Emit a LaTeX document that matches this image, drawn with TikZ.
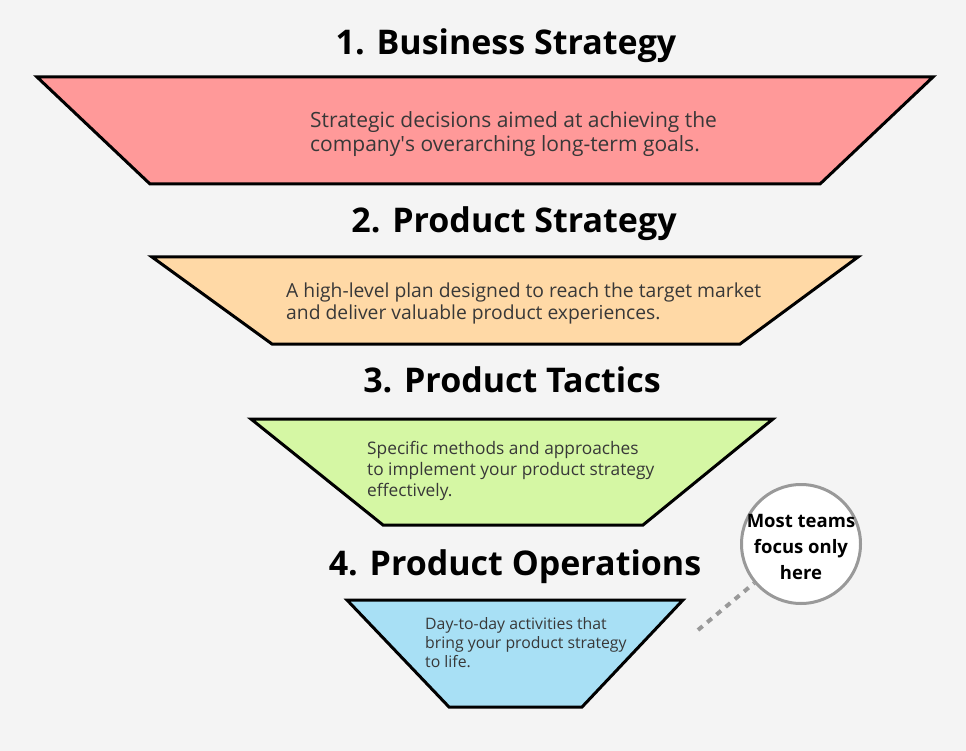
\documentclass[tikz,border=0pt]{standalone}
\usepackage{fontspec}
\setmainfont{Open Sans}
\begin{document}
\begin{tikzpicture}[x=1pt,y=-1pt,
  funnel/.style={draw=black,line width=3pt,line join=miter},
  title/.style={font=\fontsize{34}{40}\selectfont\bfseries,text=black,anchor=base},
  body/.style={text=black!78,anchor=north west,align=left,inner sep=0pt},
]
\useasboundingbox[fill={rgb,255:red,244;green,244;blue,244}] (0,0) rectangle (966,751);
\definecolor{pinkf}{RGB}{255,153,153}
\definecolor{orangef}{RGB}{255,217,166}
\definecolor{greenf}{RGB}{213,247,164}
\definecolor{bluef}{RGB}{168,224,245}
\definecolor{circgray}{RGB}{153,153,153}

\node[title] (t1) at (506,55) {1. Business Strategy};
\draw[funnel,fill=pinkf] (37,77) -- (933,77) -- (820,184) -- (150,184) -- cycle;
\node[body,font=\fontsize{21}{24}\selectfont] (b1) at (310,111) {Strategic decisions aimed at achieving the\\company\textquotesingle s overarching long-term goals.};

\node[title] (t2) at (514,233) {2. Product Strategy};
\draw[funnel,fill=orangef] (152,257) -- (858,257) -- (740,344) -- (272,344) -- cycle;
\node[body,font=\fontsize{19.3}{22}\selectfont] (b2) at (286,283) {A high-level plan designed to reach the target market\\and deliver valuable product experiences.};

\node[title] (t3) at (512,392) {3. Product Tactics};
\draw[funnel,fill=greenf] (251,419) -- (773,419) -- (643,525) -- (383,525) -- cycle;
\node[body,font=\fontsize{17.3}{21}\selectfont] (b3) at (367,441) {Specific methods and approaches\\to implement your product strategy\\effectively.};

\node[title] (t4) at (515,575) {4. Product Operations};
\draw[funnel,fill=bluef] (347,600) -- (683,600) -- (582,707) -- (449,707) -- cycle;
\node[body,font=\fontsize{15.8}{19}\selectfont] (b4) at (425,617) {Day-to-day activities that\\bring your product strategy\\to life.};

\node[circle,draw=circgray,fill=white,line width=3pt,minimum size=119pt,inner sep=0pt] (c) at (801,544) {};
\node[align=center,inner sep=0pt,font=\fontsize{18.5}{26}\selectfont\bfseries] (ctext) at (801,547) {Most teams\\focus only\\here};
\coordinate (d0) at (698,630);
\draw[circgray,line width=4pt,dash pattern=on 6pt off 6pt] (d0) -- (c);
\end{tikzpicture}
\end{document}
